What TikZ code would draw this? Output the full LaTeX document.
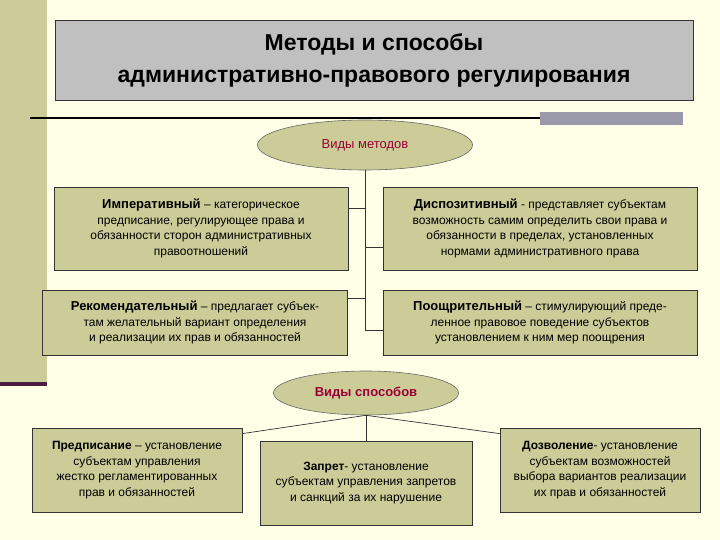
\documentclass[tikz,border=0pt]{standalone}
\usepackage{fontspec}
\setmainfont{Liberation Sans}
\usetikzlibrary{shapes.geometric}
\definecolor{bg}{HTML}{FFFFE8}
\definecolor{olive}{HTML}{CCCC99}
\definecolor{boxf}{HTML}{CCCC99}
\definecolor{titlef}{HTML}{C0C0C0}
\definecolor{purp}{HTML}{4B1E3F}
\definecolor{gbar}{HTML}{9999AA}
\definecolor{redt}{HTML}{990033}
\begin{document}
\begin{tikzpicture}[x=1pt,y=-1pt,
  box/.style={draw=black!80,fill=boxf,line width=0.8pt,inner sep=2pt,align=center,font=\fontsize{12}{15.5}\selectfont},
  ell/.style={ellipse,draw=black!60,fill=boxf,line width=0.6pt,font=\fontsize{13}{15}\selectfont\color{redt}},
  conn/.style={line width=0.7pt,draw=black!80}]
\useasboundingbox (0,0) rectangle (720,540);
\fill[bg] (0,0) rectangle (720,540);
\fill[olive] (0,0) rectangle (47,383);
\fill[purp] (0,382) rectangle (47,386);
\node[draw=black!80,fill=titlef,line width=0.8pt,minimum width=638pt,minimum height=80pt,align=center,font=\fontsize{23}{32}\selectfont\bfseries] (title) at (374,60) {Методы и способы\\административно-правового регулирования};
\fill[black] (30,117) rectangle (540,119);
\fill[gbar] (540,112) rectangle (683,125);
\node[ell,minimum width=215pt,minimum height=50pt] (e1) at (365,145) {Виды методов};
\node[box,minimum width=294pt,minimum height=83pt] (b1) at (201,228.5) {{\fontsize{13}{15.5}\selectfont\textbf{Императивный}} – категорическое\\предписание, регулирующее права и\\обязанности сторон административных\\правоотношений};
\node[box,minimum width=314pt,minimum height=83pt] (b2) at (540,228.5) {{\fontsize{13}{15.5}\selectfont\textbf{Диспозитивный}} - представляет субъектам\\возможность самим определить свои права и\\обязанности в пределах, установленных\\нормами административного права};
\node[box,minimum width=305pt,minimum height=65pt] (b3) at (195,322.5) {{\fontsize{13}{15.5}\selectfont\textbf{Рекомендательный}} – предлагает субъек-\\там желательный вариант определения\\и реализации их прав и обязанностей};
\node[box,minimum width=314pt,minimum height=65pt] (b4) at (540,322.5) {{\fontsize{13}{15.5}\selectfont\textbf{Поощрительный}} – стимулирующий преде-\\ленное правовое поведение субъектов\\установлением к ним мер поощрения};
\coordinate (t1) at (365,208);
\coordinate (t2) at (365,247);
\coordinate (t3) at (365,298);
\coordinate (t4) at (365,330);
\draw[conn] (e1.south) -- (t4);
\draw[conn] (t1) -- (t1 -| b1.east);
\draw[conn] (t2) -- (t2 -| b2.west);
\draw[conn] (t3) -- (t3 -| b3.east);
\draw[conn] (t4) -- (t4 -| b4.west);
\node[ell,minimum width=185pt,minimum height=44pt] (e2) at (366,393) {\textbf{Виды способов}};
\node[box,minimum width=210pt,minimum height=84pt] (c1) at (137,470) {\textbf{Предписание} – установление\\субъектам управления\\жестко регламентированных\\прав и обязанностей};
\node[box,minimum width=212pt,minimum height=84pt] (c2) at (366,483) {\textbf{Запрет}- установление\\субъектам управления запретов\\и санкций за их нарушение};
\node[box,minimum width=200pt,minimum height=84pt] (c3) at (600,470) {\textbf{Дозволение}- установление\\субъектам возможностей\\выбора вариантов реализации\\их прав и обязанностей};
\draw[conn] (e2.south) -- ([yshift=-6pt]c1.north east);
\draw[conn] (e2.south) -- (c2.north);
\draw[conn] (e2.south) -- ([yshift=-6pt]c3.north west);
\end{tikzpicture}
\end{document}
